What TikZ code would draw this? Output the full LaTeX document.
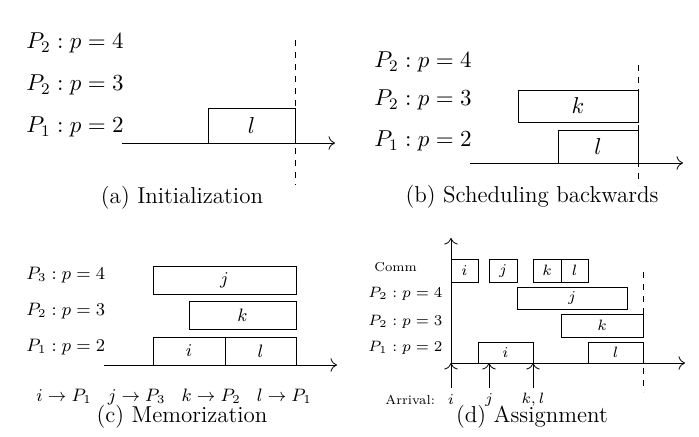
\RequirePackage{fix-cm}
\documentclass[tikz,border=0pt]{standalone}
\usetikzlibrary{positioning,fit,arrows.meta}
\tikzstyle{job}=[rectangle, draw=black, inner sep=0pt]
\tikzstyle{proc}=[anchor=west, inner sep=0pt]
\tikzstyle{big}=[font=\fontsize{11.5}{13}\selectfont]
\tikzstyle{mid}=[font=\fontsize{9}{11}\selectfont]
\tikzstyle{small}=[font=\fontsize{7.5}{9}\selectfont]
\tikzstyle{tiny}=[font=\fontsize{6.5}{8}\selectfont]
\tikzstyle{deadline}=[dashed]
\tikzset{>={To[scale=1.3]}}

\begin{document}
\begin{tikzpicture}[x=0.5pt, y=-0.5pt]
        \useasboundingbox (0,0) rectangle (699,436);

        % (a) Initialization
        \node(a4)[proc, big] at (26,43) {$P_2 : p = 4$};
        \node(a3)[proc, big] at (26,85) {$P_2 : p = 3$};
        \node(a2)[proc, big] at (26,127) {$P_1 : p = 2$};
        \coordinate (a0) at (122,143);
        \coordinate (a1) at (335,143);
        \draw[->] (a0) -- (a1);
        \node(al)[job, fit={(208,108) (295,143)}, label={[big]center:$l$}] {};
        \coordinate (ad0) at (295,40);
        \coordinate (ad1) at (295,185);
        \draw[deadline] (ad0) -- (ad1);
        \node(acap)[big] at (182,198) {(a) Initialization};

        % (b) Scheduling backwards
        \node(b4)[proc, big] at (374,62) {$P_2 : p = 4$};
        \node(b3)[proc, big] at (374,100) {$P_2 : p = 3$};
        \node(b2)[proc, big] at (374,141) {$P_1 : p = 2$};
        \coordinate (b0) at (470,163);
        \coordinate (b1) at (683,163);
        \draw[->] (b0) -- (b1);
        \node(bk)[job, fit={(518,90) (638,122)}, label={[big]center:$k$}] {};
        \node(bl)[job, fit={(558,130) (638,163)}, label={[big]center:$l$}] {};
        \coordinate (bd0) at (638,65);
        \coordinate (bd1) at (638,185);
        \draw[deadline] (bd0) -- (bd1);
        \node(bcap)[big] at (532,197) {(b) Scheduling backwards};

        % (c) Memorization
        \node(c4)[proc, mid] at (26,275) {$P_3 : p = 4$};
        \node(c3)[proc, mid] at (26,311) {$P_2 : p = 3$};
        \node(c2)[proc, mid] at (26,347) {$P_1 : p = 2$};
        \coordinate (c0) at (104,365);
        \coordinate (c1) at (337,365);
        \draw[->] (c0) -- (c1);
        \node(cj)[job, fit={(153,266) (296,294)}, label={[mid]center:$j$}] {};
        \node(ck)[job, fit={(189,301) (296,329)}, label={[mid]center:$k$}] {};
        \node(ci)[job, fit={(153,337) (225,365)}, label={[mid]center:$i$}] {};
        \node(cl)[job, fit={(225,337) (296,365)}, label={[mid]center:$l$}] {};
        \node(cmap)[mid] at (174,397) {$i \rightarrow P_1 \hspace{0.9em} j \rightarrow P_3 \hspace{0.9em} k \rightarrow P_2 \hspace{0.9em} l \rightarrow P_1$};
        \node(ccap)[big] at (182,417) {(c) Memorization};

        % (d) Assignment
        \coordinate (d0) at (451,363);
        \coordinate (dy) at (451,238);
        \coordinate (dx) at (685,363);
        \draw[->] (d0) -- (dy);
        \draw[->] (d0) -- (dx);
        \node(dcomm)[proc, tiny] at (374,267) {Comm};
        \node(d4)[proc, small] at (368,294) {$P_2 : p = 4$};
        \node(d3)[proc, small] at (368,322) {$P_2 : p = 3$};
        \node(d2)[proc, small] at (368,348) {$P_1 : p = 2$};
        \node(dci)[job, fit={(451,259) (478,282)}, label={[small]center:$i$}] {};
        \node(dcj)[job, fit={(489,259) (517,282)}, label={[small]center:$j$}] {};
        \node(dck)[job, fit={(533,259) (561,282)}, label={[small]center:$k$}] {};
        \node(dcl)[job, fit={(561,259) (588,282)}, label={[small]center:$l$}] {};
        \node(dj)[job, fit={(517,287) (627,309)}, label={[small]center:$j$}] {};
        \node(dk)[job, fit={(561,314) (643,337)}, label={[small]center:$k$}] {};
        \node(di)[job, fit={(478,342) (533,363)}, label={[small]center:$i$}] {};
        \node(dl)[job, fit={(588,342) (643,363)}, label={[small]center:$l$}] {};
        \coordinate (dd0) at (643,272);
        \coordinate (dd1) at (643,392);
        \draw[deadline] (dd0) -- (dd1);
        \node(darr)[proc, tiny] at (385,400) {Arrival:};
        \node(dai)[small] at (451,400) {$i$};
        \node(daj)[small] at (489,400) {$j$};
        \node(dakl)[small] at (533,400) {$k,l$};
        \coordinate (dti) at (451,388);
        \coordinate (dtj) at (489,388);
        \coordinate (dtkl) at (533,388);
        \coordinate (dhj) at (489,363);
        \coordinate (dhkl) at (533,363);
        \draw[->] (dti) -- (d0);
        \draw[->] (dtj) -- (dhj);
        \draw[->] (dtkl) -- (dhkl);
        \node(dcap)[big] at (532,417) {(d) Assignment};
    \end{tikzpicture}
\end{document}
